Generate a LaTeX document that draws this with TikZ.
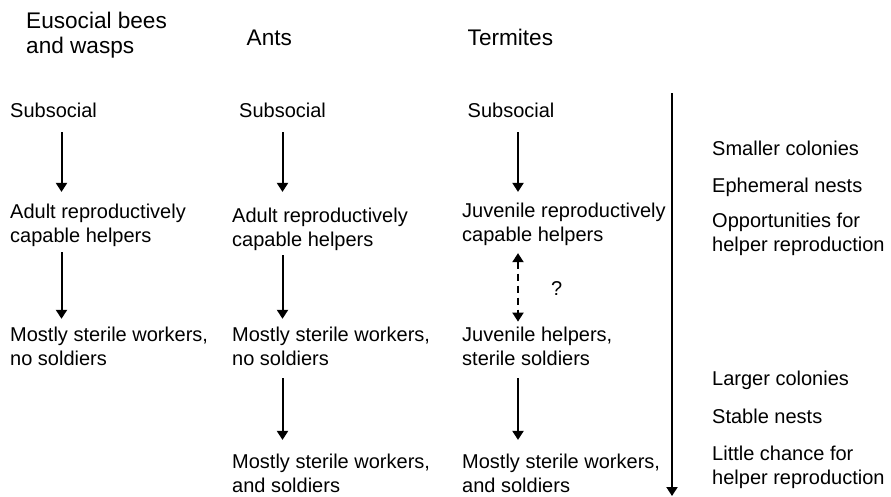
\documentclass[tikz,border=0pt]{standalone}
\usepackage{fontspec}
\setmainfont{Liberation Sans}
\usetikzlibrary{arrows.meta}
\begin{document}
\begin{tikzpicture}[x=1pt,y=-1pt,
  txt/.style={inner sep=0pt, anchor=base west, align=left, font=\fontsize{20}{24}\selectfont},
  hdr/.style={inner sep=0pt, anchor=base west, align=left, font=\fontsize{22.6}{25}\selectfont},
  arr/.style={line width=2pt, -{Triangle[width=11pt,length=9pt]}},
  darr/.style={line width=2pt, dash pattern=on 7pt off 5pt, {Triangle[width=11pt,length=9pt]}-{Triangle[width=11pt,length=9pt]}}
]
\useasboundingbox (0,0) rectangle (891,496);
% headers (base anchor = baseline of last line)
\node[hdr] (h1) at (26,53) {Eusocial bees\\and wasps};
\node[hdr] (h2) at (246.5,45) {Ants};
\node[hdr] (h3) at (467.5,45) {Termites};
% column x positions
\coordinate (x1) at (61.5,0);
\coordinate (x2) at (282.5,0);
\coordinate (x3) at (518,0);
% column 1
\node[txt] (s1) at (10,117) {Subsocial};
\node[txt] (a1) at (10,242) {Adult reproductively\\capable helpers};
\node[txt] (m1) at (10,365) {Mostly sterile workers,\\no soldiers};
% column 2
\node[txt] (s2) at (239,117) {Subsocial};
\node[txt] (a2) at (232,246) {Adult reproductively\\capable helpers};
\node[txt] (m2) at (232,365) {Mostly sterile workers,\\no soldiers};
\node[txt] (f2) at (232,492) {Mostly sterile workers,\\and soldiers};
% column 3
\node[txt] (s3) at (467.5,117) {Subsocial};
\node[txt] (j3) at (462,241) {Juvenile reproductively\\capable helpers};
\node[txt] (jh3) at (462,365) {Juvenile helpers,\\sterile soldiers};
\node[txt] (f3) at (462,492) {Mostly sterile workers,\\and soldiers};
\node[txt] (q) at (551,295) {?};
% arrows column 1
\draw[arr, shorten <=15pt, shorten >=11.4pt] (s1.south -| x1) -- (a1.north -| x1);
\draw[arr, shorten <=6pt, shorten >=7.5pt] (a1.south -| x1) -- (m1.north -| x1);
% arrows column 2
\draw[arr, shorten <=15pt, shorten >=15.4pt] (s2.south -| x2) -- (a2.north -| x2);
\draw[arr, shorten <=5pt, shorten >=7.5pt] (a2.south -| x2) -- (m2.north -| x2);
\draw[arr, shorten <=13pt, shorten >=13.4pt] (m2.south -| x2) -- (f2.north -| x2);
% arrows column 3
\draw[arr, shorten <=15pt, shorten >=10.4pt] (s3.south -| x3) -- (j3.north -| x3);
\draw[darr, shorten <=7.8pt, shorten >=4.7pt] (j3.south -| x3) -- (jh3.north -| x3);
\draw[arr, shorten <=13pt, shorten >=13.4pt] (jh3.south -| x3) -- (f3.north -| x3);
% right axis
\coordinate (rtop) at (672,93);
\coordinate (rbot) at (672,496);
\draw[arr] (rtop) -- (rbot);
\node[txt] (r1) at (712,155) {Smaller colonies};
\node[txt] (r2) at (712,192) {Ephemeral nests};
\node[txt] (r3) at (712,251) {Opportunities for\\helper reproduction};
\node[txt] (r4) at (712,385) {Larger colonies};
\node[txt] (r5) at (712,423) {Stable nests};
\node[txt] (r6) at (712,484) {Little chance for\\helper reproduction};
\end{tikzpicture}
\end{document}
